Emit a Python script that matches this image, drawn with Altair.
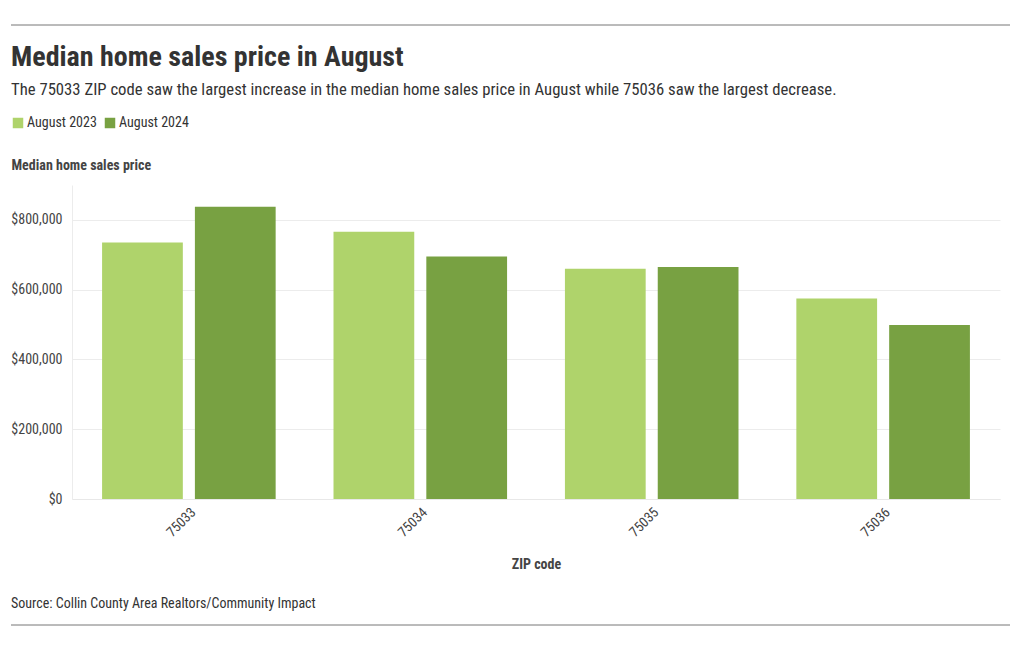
import altair as alt
import pandas as pd

zips = ["75033", "75034", "75035", "75036"]
series = ["August 2023", "August 2024"]
aug_2023 = [735000, 766000, 660000, 575000]
aug_2024 = [838000, 695000, 665000, 499000]
colors = ["#afd36b", "#78a142"]

title_text = "Median home sales price in August"
subtitle_text = ("The 75033 ZIP code saw the largest increase in the median home sales price "
                 "in August while 75036 saw the largest decrease.")
source_text = "Source: Collin County Area Realtors/Community Impact"

rows = []
for z, a, b in zip(zips, aug_2023, aug_2024):
    rows.append({"zip": z, "period": series[0], "price": a})
    rows.append({"zip": z, "period": series[1], "price": b})
df = pd.DataFrame(rows)

FONT = "Roboto Condensed, Liberation Sans Narrow, Roboto, sans-serif"
W, H = 928, 314

bars = alt.Chart(df).mark_bar().encode(
    x=alt.X("zip:N", sort=zips,
            scale=alt.Scale(paddingInner=0.25, paddingOuter=0.13),
            axis=alt.Axis(title="ZIP code", labelAngle=-45, labelFontSize=14,
                          labelColor="#444", titleFontSize=14, titleColor="#444",
                          titleFontWeight="bold", ticks=False, domain=True,
                          domainColor="#e8e8e8", labelPadding=6, titlePadding=18,
                          labelFont=FONT, titleFont=FONT)),
    xOffset=alt.XOffset("period:N", sort=series, scale=alt.Scale(paddingInner=0.13)),
    y=alt.Y("price:Q", scale=alt.Scale(domain=[0, 900000], nice=False),
            axis=alt.Axis(title="Median home sales price", values=[0, 200000, 400000, 600000, 800000],
                          format="$,.0f", labelFontSize=14, labelColor="#444",
                          ticks=False, labelPadding=10, gridColor="#ececec",
                          domain=True, domainColor="#ececec",
                          titleAngle=0, titleAlign="left", titleBaseline="alphabetic",
                          titleX=-61, titleY=-16, titleFontSize=14, titleColor="#444",
                          titleFontWeight="bold", labelFont=FONT, titleFont=FONT)),
    color=alt.Color("period:N", sort=series,
                    scale=alt.Scale(domain=series, range=colors),
                    legend=alt.Legend(title=None, orient="none", legendX=-61, legendY=-69,
                                      direction="horizontal", symbolType="square",
                                      symbolSize=110, symbolStrokeWidth=0,
                                      labelFontSize=14, labelColor="#333", labelFont=FONT,
                                      symbolOffset=0, labelOffset=2, columnPadding=6)),
)

rules = alt.Chart(pd.DataFrame({"y": [-160, 440]})).mark_rule(color="#777", strokeWidth=1).encode(
    x=alt.value(-61), x2=alt.value(938), y=alt.Y("y:Q", scale=None)
)

texts_df = pd.DataFrame({
    "t": [title_text, subtitle_text, source_text],
    "y": [-119, -90, 423],
    "kind": ["title", "sub", "src"],
})

title = alt.Chart(texts_df[texts_df.kind == "title"]).mark_text(
    align="left", baseline="alphabetic", fontSize=28, fontWeight="bold", color="#333", font=FONT
).encode(x=alt.value(-61), y=alt.Y("y:Q", scale=None), text="t:N")

sub = alt.Chart(texts_df[texts_df.kind == "sub"]).mark_text(
    align="left", baseline="alphabetic", fontSize=16.7, color="#333", font=FONT
).encode(x=alt.value(-61), y=alt.Y("y:Q", scale=None), text="t:N")

src = alt.Chart(texts_df[texts_df.kind == "src"]).mark_text(
    align="left", baseline="alphabetic", fontSize=14, color="#333", font=FONT
).encode(x=alt.value(-61), y=alt.Y("y:Q", scale=None), text="t:N")

chart = alt.layer(bars, rules, title, sub, src).properties(
    width=W, height=H,
    autosize=alt.AutoSizeParams(type="none"),
    padding={"left": 64, "top": 177, "right": 12, "bottom": 143},
    background="white",
).configure(font=FONT).configure_view(strokeWidth=0, stroke="transparent")

chart.save("out.html", embed_options={"renderer": "svg", "actions": False})
